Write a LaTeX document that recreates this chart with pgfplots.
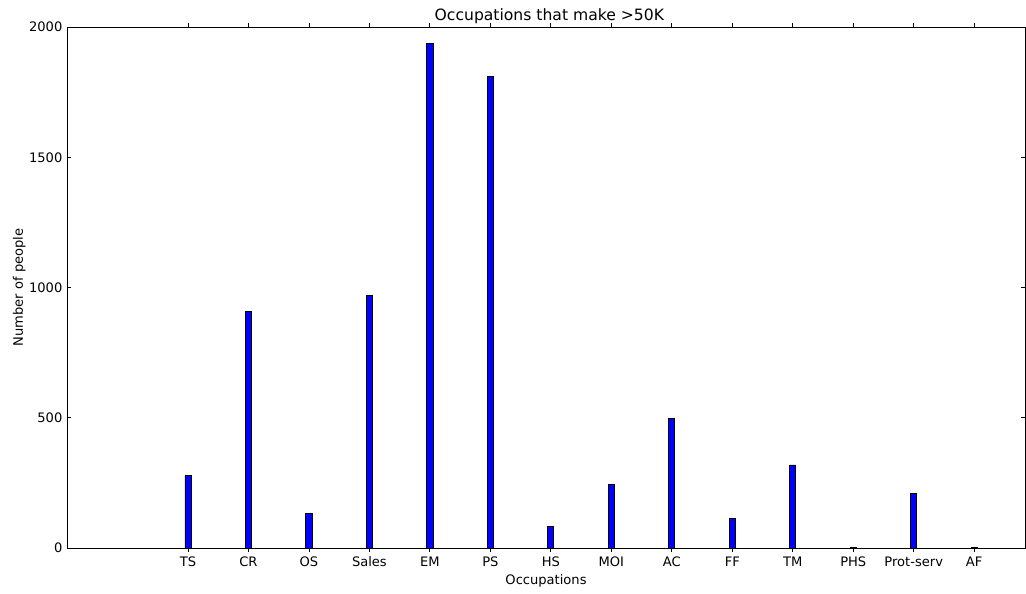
\documentclass[border=0pt]{standalone}
\usepackage{fontspec}
\setmainfont{DejaVu Sans}
\usepackage{pgfplots}
\pgfplotsset{compat=1.18}
\begin{document}
\fontsize{9.8}{12}\selectfont
\begin{tikzpicture}
\begin{axis}[
  scale only axis,
  width=718.5pt, height=390.75pt,
  xmin=-2, xmax=13.84,
  ymin=0, ymax=2000,
  ytick={0,500,1000,1500,2000},
  xtick={0,...,13},
  xticklabels={TS,CR,OS,Sales,EM,PS,HS,MOI,AC,FF,TM,PHS,Prot-serv,AF},
  tick align=inside,
  tick pos=both,
  major tick length=3pt,
  tick style={black, line width=0.6pt},
  axis line style={black, line width=0.75pt},
  /pgf/number format/assume math mode=true,
  scaled y ticks=false,
  yticklabel style={/pgf/number format/fixed, /pgf/number format/1000 sep={}},
  ticklabel style={font=\fontsize{9.8}{12}\selectfont},
  title={Occupations that make >50K},
  title style={font=\fontsize{11.7}{14}\selectfont, yshift=-7pt, xshift=2.5pt},
  xlabel={Occupations},
  ylabel={Number of people},
  label style={font=\fontsize{9.8}{12}\selectfont},
  xlabel style={yshift=1pt},
  ylabel style={yshift=-4pt},
  ybar, bar width=0.1,
]
\addplot[fill={rgb,1:red,0;green,0;blue,1}, draw=black, line width=0.6pt] coordinates {
(0,278) (1,908) (2,132) (3,970) (4,1937) (5,1811) (6,83) (7,245) (8,498) (9,115) (10,319) (11,1) (12,210) (13,1)
};
\end{axis}
\pgfresetboundingbox
\path ([shift={(-50.25pt,-33.75pt)}]current axis.south west) rectangle ([shift={(0.75pt,20.25pt)}]current axis.north east);
\end{tikzpicture}
\end{document}
